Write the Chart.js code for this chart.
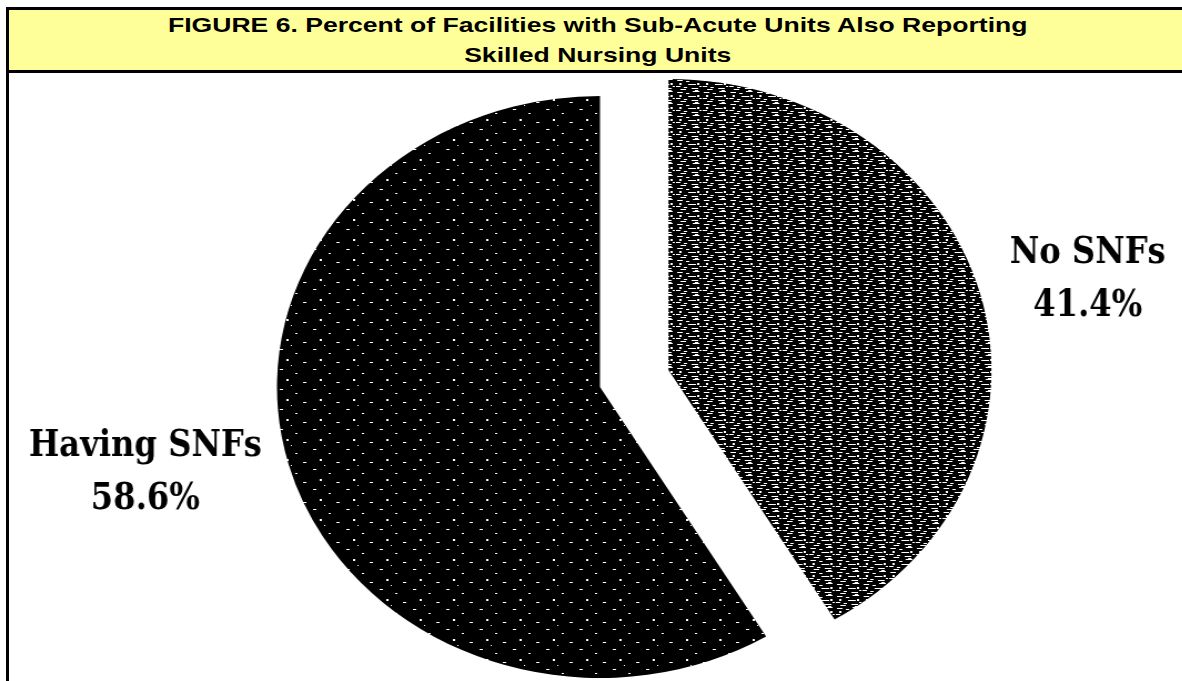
<!DOCTYPE html>
<html>
<head>
<meta charset="utf-8">
<title>Figure 6</title>
<script src="https://cdn.jsdelivr.net/npm/chart.js@4.4.1/dist/chart.umd.min.js"></script>
<style>
    html, body {
        margin: 0;
        padding: 0;
        width: 1182px;
        height: 681px;
        overflow: hidden;
        background: #fff;
    }
    #frame {
        position: absolute;
        left: 6px;
        top: 7px;
        width: 1184px;
        height: 720px;
        border: 3px solid #000;
        box-sizing: border-box;
    }
    #title {
        height: 60px;
        background: #ffff99;
        border-bottom: 3px solid #000;
        font: bold 21px "Liberation Sans", Arial, sans-serif;
        line-height: 30px;
        text-align: center;
        color: #000;
    }
    /* the source title is set wide */
    #title span {
        display: inline-block;
        transform: scaleX(1.265);
        transform-origin: 50% 0;
    }
    /* the scanned pie is an ellipse, so the chart box is stretched sideways */
    #chartWrap {
        position: absolute;
        left: 10px;
        top: 67px;
        width: 1063px;
        height: 640px;
        transform: scaleX(1.11);
        transform-origin: 0 0;
    }
</style>
</head>
<body>
<div id="frame">
    <div id="title"><span>FIGURE 6. Percent of Facilities with Sub-Acute Units Also Reporting<br>Skilled Nursing Units</span></div>
</div>
<div id="chartWrap"><canvas id="pie"></canvas></div>

<script>
// Chart data
const categories = ['No SNFs', 'Having SNFs'];
const shares = [41.4, 58.6];
const shareLabels = ['41.4%', '58.6%'];
const explode = [64, 0];

// label placement along each slice's bisector
const labelGap = [101, 134];
const labelShift = [11, -31];

const STRETCH = 1.11;
const LABEL_WIDTH = 233; // on-page width of "Having SNFs" in the scan

document.addEventListener('DOMContentLoaded', () => {
    const ctx = document.getElementById('pie').getContext('2d');

    // scanned halftone look: black with white flecks
    function speckle(w, h, dashes) {
        const tile = document.createElement('canvas');
        tile.width = w;
        tile.height = h;
        const g = tile.getContext('2d');
        g.fillStyle = '#000';
        g.fillRect(0, 0, w, h);
        g.fillStyle = '#fff';
        dashes.forEach(d => g.fillRect(d[0], d[1], d[2], d[3]));
        return ctx.createPattern(tile, 'repeat');
    }

    const lightFill = speckle(24, 12, [
        [1, 1, 5, 1], [9, 2, 3, 1], [15, 0, 6, 1], [3, 4, 2, 2],
        [11, 5, 7, 1], [19, 4, 2, 2], [0, 7, 4, 1], [7, 8, 3, 1],
        [14, 9, 6, 1], [21, 7, 2, 1], [4, 10, 5, 1], [17, 11, 3, 1]
    ]);
    const darkFill = speckle(30, 20, [
        [3, 2, 3, 1], [17, 6, 2, 1], [9, 12, 2, 2], [24, 15, 3, 1], [13, 18, 1, 1]
    ]);

    // pull slices out along their bisector
    const explodePlugin = {
        id: 'explode',
        afterDatasetUpdate(chart, args) {
            args.meta.data.forEach((arc, i) => {
                const dist = explode[i] || 0;
                if (!dist) return;
                const mid = (arc.startAngle + arc.endAngle) / 2;
                arc.x += Math.cos(mid) * dist;
                arc.y += Math.sin(mid) * dist;
            });
        }
    };

    const labelPlugin = {
        id: 'sliceLabels',
        afterDatasetsDraw(chart) {
            const c = chart.ctx;
            const arcs = chart.getDatasetMeta(0).data;
            c.save();
            c.font = 'bold 37px "DejaVu Serif", serif';
            c.fillStyle = '#000';
            c.textAlign = 'center';
            c.textBaseline = 'alphabetic';
            // the scan's face is narrower than DejaVu Serif
            const squeeze = Math.min(1, LABEL_WIDTH / c.measureText(categories[1]).width);
            arcs.forEach((arc, i) => {
                const mid = (arc.startAngle + arc.endAngle) / 2;
                const d = arc.outerRadius + labelGap[i];
                const x = arc.x + Math.cos(mid) * d;
                const y = arc.y + Math.sin(mid) * d + labelShift[i];
                c.save();
                c.translate(x, y);
                c.scale(squeeze / STRETCH, 1);
                c.fillText(categories[i], 0, -26 + 13);
                c.fillText(shareLabels[i], 0, 26 + 14);
                c.restore();
            });
            c.restore();
        }
    };

    new Chart(ctx, {
        type: 'pie',
        data: {
            labels: categories,
            datasets: [{
                data: shares,
                backgroundColor: [lightFill, darkFill],
                borderWidth: 0,
                radius: 291
            }]
        },
        options: {
            responsive: true,
            maintainAspectRatio: false,
            animation: false,
            events: [],
            layout: { padding: 0 },
            plugins: {
                legend: { display: false },
                tooltip: { enabled: false },
                title: { display: false }
            }
        },
        plugins: [explodePlugin, labelPlugin]
    });
});
</script>
</body>
</html>
